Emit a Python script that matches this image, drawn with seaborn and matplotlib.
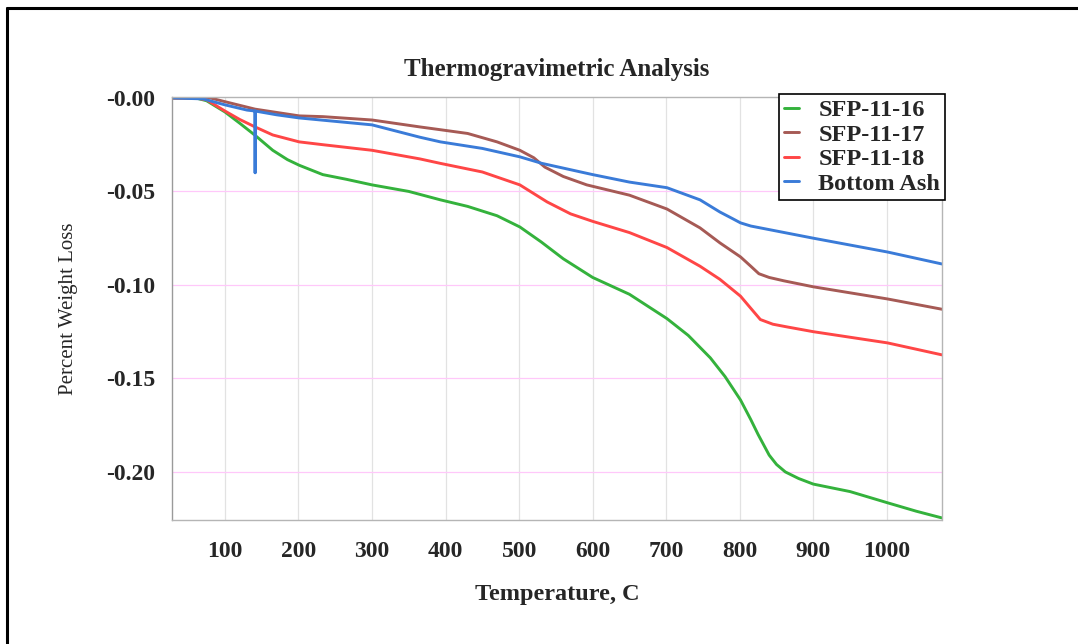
import pandas as pd
import matplotlib.pyplot as plt
import seaborn as sns
from matplotlib.lines import Line2D

# values (temperature C, percent weight loss)
sfp16_temp = [28, 60, 75, 100, 120, 141, 165, 185, 201, 233, 265, 300, 350, 393, 430, 470, 501, 530,
              560, 600, 650, 701, 730, 760, 780, 801, 815, 825, 840, 850, 862, 880, 900, 950, 1001,
              1040, 1075]
sfp16_loss = [0, 0, -0.0015, -0.0075, -0.0135, -0.020, -0.028, -0.033, -0.036, -0.041, -0.0435, -0.0465,
              -0.050, -0.0545, -0.058, -0.063, -0.069, -0.077, -0.086, -0.096, -0.105, -0.118, -0.127,
              -0.139, -0.149, -0.1615, -0.172, -0.180, -0.191, -0.196, -0.200, -0.2035, -0.2065,
              -0.2105, -0.2165, -0.221, -0.2246]

sfp17_temp = [28, 80, 100, 141, 201, 233, 300, 365, 393, 430, 470, 501, 520, 535, 560, 592, 650, 701,
              746, 773, 801, 815, 826, 840, 860, 900, 1001, 1075]
sfp17_loss = [0, 0, -0.002, -0.006, -0.0096, -0.010, -0.0118, -0.0155, -0.017, -0.019, -0.0235, -0.028,
              -0.032, -0.037, -0.042, -0.0465, -0.052, -0.0594, -0.0695, -0.0775, -0.085, -0.090,
              -0.094, -0.096, -0.0978, -0.101, -0.1075, -0.113]

sfp18_temp = [28, 60, 75, 100, 120, 141, 165, 201, 233, 300, 365, 393, 450, 501, 538, 570, 600, 650,
              701, 746, 773, 801, 815, 828, 845, 865, 900, 1001, 1075]
sfp18_loss = [0, 0, -0.001, -0.007, -0.0115, -0.0155, -0.0198, -0.0235, -0.025, -0.028, -0.0326, -0.035,
              -0.0396, -0.0465, -0.0556, -0.062, -0.066, -0.072, -0.080, -0.090, -0.097, -0.106,
              -0.1125, -0.1185, -0.121, -0.1225, -0.125, -0.131, -0.1374]

ash_temp = [28, 70, 100, 130, 141, 141, 141, 170, 201, 300, 365, 393, 450, 501, 531, 600, 650, 701,
            746, 773, 790, 801, 815, 900, 1001, 1075]
ash_loss = [0, -0.0005, -0.0037, -0.0065, -0.007, -0.040, -0.007, -0.009, -0.0107, -0.0144, -0.021,
            -0.0235, -0.027, -0.0315, -0.035, -0.041, -0.045, -0.048, -0.0545, -0.061, -0.0645,
            -0.0668, -0.0685, -0.075, -0.0824, -0.0888]

series_names = ['SFP-11-16', 'SFP-11-17', 'SFP-11-18', 'Bottom Ash']
series_colors = ['#34b23c', '#a65a55', '#ff4646', '#3a7bd8']

x_ticks = [100, 200, 300, 400, 500, 600, 700, 800, 900, 1000]
y_ticks = [0.0, -0.05, -0.10, -0.15, -0.20]
y_tick_labels = ['-0.00', '-0.05', '-0.10', '-0.15', '-0.20']

frames = []
for name, t, w in zip(series_names,
                      [sfp16_temp, sfp17_temp, sfp18_temp, ash_temp],
                      [sfp16_loss, sfp17_loss, sfp18_loss, ash_loss]):
    part = pd.DataFrame({'Temperature': t, 'Loss': w})
    part['Sample'] = name
    frames.append(part)
df = pd.concat(frames, ignore_index=True)

sns.set_style('white')
plt.rcParams['font.family'] = ['Liberation Serif', 'DejaVu Serif']

fig = plt.figure(figsize=(10.78, 6.44), dpi=100)
ax = fig.add_axes([172 / 1078, 1 - 520 / 644, 770 / 1078, 423 / 644])

sns.lineplot(data=df, x='Temperature', y='Loss', hue='Sample', hue_order=series_names,
             palette=dict(zip(series_names, series_colors)), estimator=None, sort=False,
             units='Sample', linewidth=2.1, ax=ax)

ax.set_xlim(28, 1075)
ax.set_ylim(-0.2257, 0.0005)
ax.set_xticks(x_ticks)
ax.set_xticklabels([str(v) for v in x_ticks], fontsize=17, fontweight='bold')
ax.set_yticks(y_ticks)
ax.set_yticklabels(y_tick_labels, fontsize=17, fontweight='bold')
ax.tick_params(axis='x', length=0, pad=15)
ax.tick_params(axis='y', length=0, pad=12)

# grid: grey verticals, pink horizontals
for v in x_ticks:
    ax.axvline(v, color='#e2e2e2', lw=0.9, zorder=0)
for v in y_ticks[1:]:
    ax.axhline(v, color='#ffc8fa', lw=0.9, zorder=0)

for side in ['left', 'right', 'top', 'bottom']:
    ax.spines[side].set_color('#b5b5b5')
    ax.spines[side].set_linewidth(1.0)
    ax.spines[side].set_linestyle((0, (2, 1)))
ax.spines['left'].set_linestyle('-')
ax.spines['left'].set_color('#9a9a9a')

ax.set_title('Thermogravimetric Analysis', fontsize=18, fontweight='bold', pad=15)
ax.set_xlabel('Temperature, C', fontsize=17.5, fontweight='bold', labelpad=16)
ax.set_ylabel('Percent Weight Loss', fontsize=15, labelpad=20)

leg = ax.legend(loc='upper right', bbox_to_anchor=(1.004, 1.006), borderaxespad=0,
                prop={'size': 17.5, 'weight': 'bold'}, handlelength=0.6, handletextpad=0.8,
                labelspacing=0.1, borderpad=0.2, fancybox=False, framealpha=1)
leg.get_frame().set_edgecolor('black')
leg.get_frame().set_linewidth(1.2)

# page border left and top
fig.add_artist(Line2D([7 / 1078, 7 / 1078], [0, 1 - 8 / 644], transform=fig.transFigure,
                      color='black', lw=2.2))
fig.add_artist(Line2D([7 / 1078, 1], [1 - 8 / 644, 1 - 8 / 644], transform=fig.transFigure,
                      color='black', lw=2.2))

fig.savefig('out.png', dpi=100)
